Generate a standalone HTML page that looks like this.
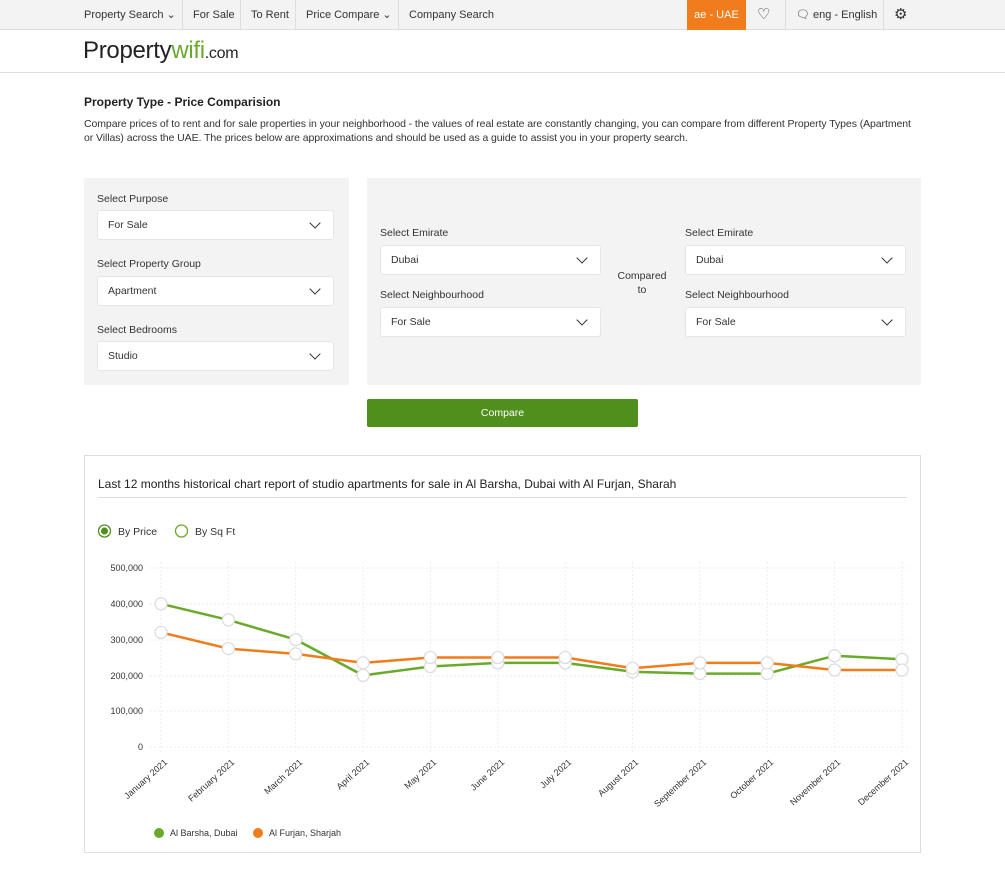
<!DOCTYPE html>
<html><head><meta charset="utf-8"><style>
*{box-sizing:border-box;margin:0;padding:0}
body{width:1005px;height:873px;background:#fff;font-family:"Liberation Sans",sans-serif;color:#222;position:relative;overflow:hidden}
.abs{position:absolute}
.nav{left:0;top:0;width:1005px;height:30px;background:#f3f3f3;border-bottom:1px solid #ddd}
.ni{position:absolute;top:0;height:30px;line-height:30px;font-size:11px;color:#333;border-left:1px solid #ddd;padding-left:10px}
.sel{position:absolute;height:30px;background:#fff;border-radius:3px;border:1px solid #e6e6e6;font-size:10.5px;line-height:29px;padding-left:10px;color:#333}
.sel:after{content:"";position:absolute;right:14px;top:8px;width:7px;height:7px;border-right:1.3px solid #333;border-bottom:1.3px solid #333;transform:rotate(45deg)}
.lbl{position:absolute;font-size:10.5px;color:#333}
</style></head><body>
<div class="abs nav"></div>
<div class="ni" style="left:74px;border-left:none">Property Search ⌄</div>
<div class="ni" style="left:182px">For Sale</div>
<div class="ni" style="left:240px">To Rent</div>
<div class="ni" style="left:295px">Price Compare ⌄</div>
<div class="ni" style="left:398px">Company Search</div>
<div class="abs" style="left:687px;top:0;width:59px;height:30px;background:#f07c1b;color:#fff;font-size:11px;line-height:30px;text-align:center">ae - UAE</div>
<div class="ni" style="left:747px;width:38px;font-size:15px;border-left:none">♡</div>
<div class="ni" style="left:785px">🗨 eng - English</div>
<div class="ni" style="left:883px;font-size:15px">⚙</div>
<div class="abs" style="left:83px;top:37px;font-size:24px;color:#222;letter-spacing:-0.3px">Property<span style="color:#6aaa2a">wifi</span><span style="font-size:16px">.com</span></div>
<div class="abs" style="left:0;top:72px;width:1005px;height:1px;background:#ddd"></div>
<div class="abs" style="left:84px;top:95px;font-size:12px;font-weight:bold">Property Type - Price Comparision</div>
<div class="abs" style="left:84px;top:117px;width:880px;font-size:10.5px;line-height:14px;color:#333;letter-spacing:-0.08px;white-space:nowrap">Compare prices of to rent and for sale properties in your neighborhood - the values of real estate are constantly changing, you can compare from different Property Types (Apartment<br>or Villas) across the UAE. The prices below are approximations and should be used as a guide to assist you in your property search.</div>
<div class="abs" style="left:84px;top:178px;width:265px;height:207px;background:#f3f3f3"></div>
<div class="abs" style="left:367px;top:178px;width:554px;height:207px;background:#f3f3f3"></div>
<div class="lbl" style="left:97px;top:193px">Select Purpose</div>
<div class="sel" style="left:97px;top:210px;width:237px">For Sale</div>
<div class="lbl" style="left:97px;top:258px">Select Property Group</div>
<div class="sel" style="left:97px;top:276px;width:237px">Apartment</div>
<div class="lbl" style="left:97px;top:324px">Select Bedrooms</div>
<div class="sel" style="left:97px;top:341px;width:237px">Studio</div>
<div class="lbl" style="left:380px;top:227px">Select Emirate</div>
<div class="sel" style="left:380px;top:245px;width:221px">Dubai</div>
<div class="lbl" style="left:380px;top:289px">Select Neighbourhood</div>
<div class="sel" style="left:380px;top:307px;width:221px">For Sale</div>
<div class="lbl" style="left:612px;top:269px;width:60px;text-align:center;line-height:14px">Compared to</div>
<div class="lbl" style="left:685px;top:227px">Select Emirate</div>
<div class="sel" style="left:685px;top:245px;width:221px">Dubai</div>
<div class="lbl" style="left:685px;top:289px">Select Neighbourhood</div>
<div class="sel" style="left:685px;top:307px;width:221px">For Sale</div>
<div class="abs" style="left:367px;top:399px;width:271px;height:28px;background:#4f8f1b;border-radius:2px;color:#fff;font-size:10.5px;line-height:28px;text-align:center">Compare</div>
<div class="abs" style="left:84px;top:455px;width:837px;height:398px;border:1px solid #ddd"></div>
<div class="abs" style="left:98px;top:477px;font-size:12px;color:#222">Last 12 months historical chart report of studio apartments for sale in Al Barsha, Dubai with Al Furjan, Sharah</div>
<div class="abs" style="left:98px;top:497px;width:809px;height:1px;background:#ddd"></div>
<svg class="abs" style="left:0;top:0" width="1005" height="873" font-family="Liberation Sans, sans-serif">
<circle cx="104.5" cy="531" r="6" fill="#fff" stroke="#4f8f1b" stroke-width="1.3"/><circle cx="104.5" cy="531" r="3.5" fill="#4f8f1b"/>
<text x="118" y="535" font-size="10.5" fill="#333">By Price</text>
<circle cx="181.5" cy="531" r="6" fill="#fff" stroke="#6aaa2a" stroke-width="1.3"/>
<text x="195" y="535" font-size="10.5" fill="#333">By Sq Ft</text>
<g stroke="#eee" stroke-dasharray="2,2" stroke-width="1">
<line x1="150" x2="910" y1="568" y2="568"/><line x1="150" x2="910" y1="604" y2="604"/><line x1="150" x2="910" y1="640" y2="640"/><line x1="150" x2="910" y1="676" y2="676"/><line x1="150" x2="910" y1="711" y2="711"/><line x1="150" x2="910" y1="747" y2="747"/>
<line x1="161" x2="161" y1="562" y2="752"/><line x1="228.4" x2="228.4" y1="562" y2="752"/><line x1="295.7" x2="295.7" y1="562" y2="752"/><line x1="363.1" x2="363.1" y1="562" y2="752"/><line x1="430.4" x2="430.4" y1="562" y2="752"/><line x1="497.8" x2="497.8" y1="562" y2="752"/><line x1="565.2" x2="565.2" y1="562" y2="752"/><line x1="632.5" x2="632.5" y1="562" y2="752"/><line x1="699.9" x2="699.9" y1="562" y2="752"/><line x1="767.2" x2="767.2" y1="562" y2="752"/><line x1="834.6" x2="834.6" y1="562" y2="752"/><line x1="902" x2="902" y1="562" y2="752"/>
</g>
<g font-size="9" fill="#333" text-anchor="end">
<text x="143" y="571">500,000</text><text x="143" y="607">400,000</text><text x="143" y="643">300,000</text><text x="143" y="679">200,000</text><text x="143" y="714">100,000</text><text x="143" y="750">0</text>
</g>
<g font-size="9" fill="#333" text-anchor="end">
<text transform="translate(168,763) rotate(-42)">January 2021</text>
<text transform="translate(235,763) rotate(-42)">February 2021</text>
<text transform="translate(303,763) rotate(-42)">March 2021</text>
<text transform="translate(370,763) rotate(-42)">April 2021</text>
<text transform="translate(437,763) rotate(-42)">May 2021</text>
<text transform="translate(505,763) rotate(-42)">June 2021</text>
<text transform="translate(572,763) rotate(-42)">July 2021</text>
<text transform="translate(639,763) rotate(-42)">August 2021</text>
<text transform="translate(707,763) rotate(-42)">September 2021</text>
<text transform="translate(774,763) rotate(-42)">October 2021</text>
<text transform="translate(841,763) rotate(-42)">November 2021</text>
<text transform="translate(909,763) rotate(-42)">December 2021</text>
</g>
<polyline fill="none" stroke="#6aaa2a" stroke-width="2.5" points="161,603.8 228.4,619.9 295.7,639.6 363.1,675.4 430.4,666.5 497.8,662.9 565.2,662.9 632.5,671.8 699.9,673.6 767.2,673.6 834.6,655.7 902,659.3"/>
<polyline fill="none" stroke="#f07c1b" stroke-width="2.5" points="161,632.4 228.4,648.6 295.7,653.9 363.1,662.9 430.4,657.5 497.8,657.5 565.2,657.5 632.5,668.2 699.9,662.9 767.2,662.9 834.6,670 902,670"/>
<g fill="#fff" stroke="#ddd" stroke-width="1.3">
<circle cx="161" cy="603.8" r="6"/><circle cx="228.4" cy="619.9" r="6"/><circle cx="295.7" cy="639.6" r="6"/><circle cx="363.1" cy="675.4" r="6"/><circle cx="430.4" cy="666.5" r="6"/><circle cx="497.8" cy="662.9" r="6"/><circle cx="565.2" cy="662.9" r="6"/><circle cx="632.5" cy="671.8" r="6"/><circle cx="699.9" cy="673.6" r="6"/><circle cx="767.2" cy="673.6" r="6"/><circle cx="834.6" cy="655.7" r="6"/><circle cx="902" cy="659.3" r="6"/>
<circle cx="161" cy="632.4" r="6"/><circle cx="228.4" cy="648.6" r="6"/><circle cx="295.7" cy="653.9" r="6"/><circle cx="363.1" cy="662.9" r="6"/><circle cx="430.4" cy="657.5" r="6"/><circle cx="497.8" cy="657.5" r="6"/><circle cx="565.2" cy="657.5" r="6"/><circle cx="632.5" cy="668.2" r="6"/><circle cx="699.9" cy="662.9" r="6"/><circle cx="767.2" cy="662.9" r="6"/><circle cx="834.6" cy="670" r="6"/><circle cx="902" cy="670" r="6"/>
</g>
<circle cx="159" cy="833" r="5" fill="#6aaa2a"/><text x="170" y="836" font-size="9" fill="#333">Al Barsha, Dubai</text>
<circle cx="258" cy="833" r="5" fill="#f07c1b"/><text x="269" y="836" font-size="9" fill="#333">Al Furjan, Sharjah</text>
</svg>
</body></html>
